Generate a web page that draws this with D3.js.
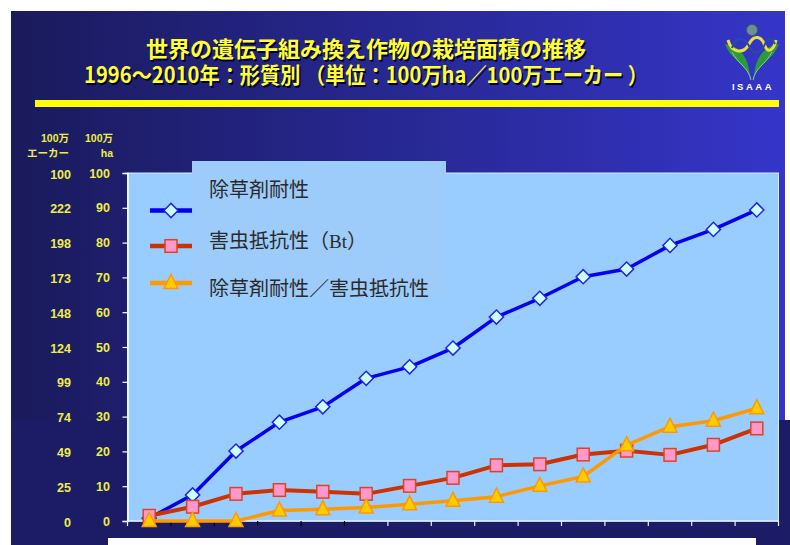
<!DOCTYPE html>
<html>
<head>
<meta charset="utf-8">
<script src="https://cdn.jsdelivr.net/npm/d3@7"></script>
<style>
  body { margin: 0; background: #fff; }
  svg text { font-family: "Liberation Sans", Arial, sans-serif; }
</style>
</head>
<body>
<div id="chart"></div>
<script>
// データ（単位：100万ha）
const years = [1996, 1997, 1998, 1999, 2000, 2001, 2002, 2003, 2004, 2005, 2006, 2007, 2008, 2009, 2010];
const herbicideTolerant = [0.8, 7.5, 20.1, 28.4, 32.8, 41.0, 44.3, 49.7, 58.6, 64.0, 70.2, 72.4, 79.2, 83.8, 89.4];
const insectResistant = [1.5, 4.1, 7.8, 8.9, 8.4, 7.8, 10.1, 12.4, 16.0, 16.3, 19.1, 20.2, 19.0, 21.9, 26.6];
const stacked = [0, 0, 0, 3.0, 3.4, 3.9, 4.8, 5.8, 7.0, 10.1, 12.8, 21.8, 27.1, 28.8, 32.4];

const haTicks = [0, 10, 20, 30, 40, 50, 60, 70, 80, 90, 100];
const acreLabels = ["0", "25", "49", "74", "99", "124", "148", "173", "198", "222", "100"];
const seriesNames = ["除草剤耐性", "害虫抵抗性", "除草剤耐性／害虫抵抗性"];

const titleLine1 = "世界の遺伝子組み換え作物の栽培面積の推移";
const titleLine2 = "1996～2010年：形質別 （単位：100万ha／100万エーカー ）";

const width = 790, height = 545;

const svg = d3.select("#chart").append("svg")
    .attr("width", width)
    .attr("height", height);

const defs = svg.append("defs");
const grad = defs.append("linearGradient").attr("id", "bg").attr("x1", 0).attr("x2", 1).attr("y1", 0).attr("y2", 0);
grad.append("stop").attr("offset", "0%").attr("stop-color", "#1a1a5c");
grad.append("stop").attr("offset", "100%").attr("stop-color", "#3535c9");

// スライドの背景
svg.append("rect").attr("x", 11).attr("y", 11).attr("width", 774).attr("height", 534).attr("fill", "url(#bg)");
// グラフ画像の背景（紺色）
svg.append("rect").attr("x", 11).attr("y", 420).attr("width", 779).attr("height", 125).attr("fill", "#1c1c66");
svg.append("rect").attr("x", 108).attr("y", 538).attr("width", 648).attr("height", 7).attr("fill", "#fff");

// タイトル
const titleFont = '"Noto Sans CJK JP", sans-serif';
[[titleLine1, 57, 146, 440], [titleLine2, 83, 84, 564]].forEach(([t, y, x, len]) => {
  svg.append("text").attr("x", x + 1.5).attr("y", y + 1.5).attr("textLength", len).attr("lengthAdjust", "spacingAndGlyphs")
    .style("font-family", titleFont).style("font-weight", 700).style("font-size", "22px")
    .attr("fill", "#000033").text(t);
  svg.append("text").attr("x", x).attr("y", y).attr("textLength", len).attr("lengthAdjust", "spacingAndGlyphs")
    .style("font-family", titleFont).style("font-weight", 700).style("font-size", "22px")
    .attr("fill", "#ffff33").text(t);
});

// 黄色い線
svg.append("rect").attr("x", 35).attr("y", 100).attr("width", 744).attr("height", 7).attr("fill", "#ffff00");

// ISAAA ロゴ（簡略）
const logo = svg.append("g").attr("transform", "translate(752,0)");
logo.append("circle").attr("cx", 0).attr("cy", 30).attr("r", 5.5).attr("fill", "#6f9090").attr("stroke", "#3f5f60");
logo.append("path").attr("d", "M-2,80 C-4,64 -20,62 -27,44 C-12,46 -2,58 -2,80 Z").attr("fill", "#2a9a3a");
logo.append("path").attr("d", "M2,80 C4,64 20,62 27,44 C12,46 2,58 2,80 Z").attr("fill", "#2a9a3a");
logo.append("path").attr("d", "M-1,80 C-3,68 -14,64 -20,52").attr("fill", "none").attr("stroke", "#7fd080").attr("stroke-width", 1);
logo.append("path").attr("d", "M1,80 C3,68 14,64 20,52").attr("fill", "none").attr("stroke", "#7fd080").attr("stroke-width", 1);
logo.append("path").attr("d", "M-24,40 C-20,54 -8,54 -3,44 C2,34 10,36 13,46 C16,54 22,50 24,40")
  .attr("fill", "none").attr("stroke", "#e8e040").attr("stroke-width", 3);
logo.append("path").attr("d", "M-20,48 C-16,36 -8,36 -3,46 C2,56 9,54 13,44 C16,36 20,38 23,44")
  .attr("fill", "none").attr("stroke", "#2a4aa0").attr("stroke-width", 2);
logo.append("text").attr("x", 1).attr("y", 90).attr("text-anchor", "middle")
  .style("font-size", "9.5px").style("font-weight", 700).style("letter-spacing", "2.5px")
  .attr("fill", "#ffffff").text("ISAAA");

// スケール
const x = d3.scaleBand().domain(years).range([127.5, 778.5]);
const y = d3.scaleLinear().domain([0, 100]).range([521, 173]);

// プロット領域
svg.append("rect")
  .attr("x", x.range()[0]).attr("y", y(100))
  .attr("width", x.range()[1] - x.range()[0]).attr("height", y(0) - y(100))
  .attr("fill", "#99ccff").attr("stroke", "#d8ecff").attr("stroke-width", 1);

// Y軸
const yAxis = svg.append("g")
  .attr("transform", `translate(${x.range()[0]},0)`)
  .call(d3.axisLeft(y).tickValues(haTicks).tickSize(5).tickFormat(""));
yAxis.select(".domain").attr("stroke", "#ffffff").attr("stroke-width", 1.5);
yAxis.selectAll(".tick line").attr("stroke", "#ffffff").attr("stroke-width", 1.2);

const labelColor = "#eeee44";
svg.selectAll("text.ha").data(haTicks).enter().append("text")
  .attr("class", "ha")
  .attr("x", 110).attr("y", d => y(d)).attr("dy", "0.36em")
  .attr("text-anchor", "end")
  .style("font-size", "12.5px").style("font-weight", 700)
  .attr("fill", labelColor).text(d => d);

svg.selectAll("text.acre").data(acreLabels).enter().append("text")
  .attr("class", "acre")
  .attr("x", 71).attr("y", (d, i) => y(haTicks[i]) + 1).attr("dy", "0.36em")
  .attr("text-anchor", "end")
  .style("font-size", "12.5px").style("font-weight", 700)
  .attr("fill", labelColor).text(d => d);

// 単位ラベル
[["100万", 69, 142], ["エーカー", 69, 157], ["100万", 113, 142], ["ha", 113, 157]].forEach(([t, tx, ty]) => {
  svg.append("text").attr("x", tx).attr("y", ty).attr("text-anchor", "end")
    .style("font-family", '"Liberation Sans", "Noto Sans CJK JP", sans-serif')
    .style("font-size", "10.5px").style("font-weight", 700)
    .attr("fill", labelColor).text(t);
});

// X軸（目盛りのみ）
const xTicks = years.map(d => x(d)).concat([x.range()[1]]);
svg.append("line")
  .attr("x1", x.range()[0]).attr("x2", x.range()[1])
  .attr("y1", y(0)).attr("y2", y(0))
  .attr("stroke", "#d8ecff").attr("stroke-width", 1.5);
svg.selectAll("line.xtick").data(xTicks).enter().append("line")
  .attr("class", "xtick")
  .attr("x1", d => d).attr("x2", d => d)
  .attr("y1", y(0)).attr("y2", y(0) + 5)
  .attr("stroke", (d, i) => (i >= 1 && i <= 5) ? "#000000" : "#e8f0ff")
  .attr("stroke-width", 1.2);

// シリーズ
const cx = d => x(d) + x.bandwidth() / 2;
const triangle = "M0,-8.5 L7,5.5 L-7,5.5 Z";
const series = [
  { values: herbicideTolerant, line: "#0000ee", lw: 3.5,
    marker: g => g.append("rect").attr("x", -5).attr("y", -5).attr("width", 10).attr("height", 10)
      .attr("transform", "rotate(45)").attr("fill", "#ccffff").attr("stroke", "#2222ee").attr("stroke-width", 1.5) },
  { values: insectResistant, line: "#cc3300", lw: 4,
    marker: g => g.append("rect").attr("x", -6).attr("y", -6.3).attr("width", 12).attr("height", 12.6)
      .attr("fill", "#ff99cc").attr("stroke", "#dd4422").attr("stroke-width", 1.5) },
  { values: stacked, line: "#ff9900", lw: 3.5,
    marker: g => g.append("path").attr("d", triangle)
      .attr("fill", "#ffcc00").attr("stroke", "#ff9900").attr("stroke-width", 1.5) }
];

const line = d3.line().x((d, i) => cx(years[i])).y(d => y(d));

series.forEach(s => {
  svg.append("path").datum(s.values)
    .attr("d", line)
    .attr("fill", "none").attr("stroke", s.line).attr("stroke-width", s.lw)
    .attr("stroke-linejoin", "round");
  s.values.forEach((v, i) => {
    const g = svg.append("g").attr("transform", `translate(${cx(years[i])},${y(v)})`);
    s.marker(g);
  });
});

// 凡例
const legendY = [210.5, 246, 283];
series.forEach((s, i) => {
  svg.append("line").attr("x1", 150).attr("x2", 192).attr("y1", legendY[i]).attr("y2", legendY[i])
    .attr("stroke", s.line).attr("stroke-width", 4.5);
  const g = svg.append("g").attr("transform", `translate(171,${legendY[i]})`);
  s.marker(g);
});

defs.append("clipPath").attr("id", "legendClip")
  .append("rect").attr("x", 192).attr("y", 161).attr("width", 254).attr("height", 136);
const legend = svg.append("g").attr("clip-path", "url(#legendClip)");
legend.append("rect").attr("x", 192).attr("y", 161).attr("width", 254).attr("height", 136).attr("fill", "#9dcbfa");
const legendFont = '"Noto Sans CJK JP", sans-serif';
legend.append("text").attr("x", 209).attr("y", 197)
  .style("font-family", legendFont).style("font-size", "20px").attr("fill", "#2a2a2a").text(seriesNames[0]);
const t2 = legend.append("text").attr("x", 209).attr("y", 248)
  .style("font-family", legendFont).style("font-size", "20px").attr("fill", "#2a2a2a");
t2.append("tspan").text(seriesNames[1] + "（");
t2.append("tspan").style("font-family", '"Liberation Serif", serif').style("font-size", "19px").text("Bt");
t2.append("tspan").text("）");
legend.append("text").attr("x", 209).attr("y", 296)
  .style("font-family", legendFont).style("font-size", "20px").attr("fill", "#2a2a2a").text(seriesNames[2]);
</script>
</body>
</html>
